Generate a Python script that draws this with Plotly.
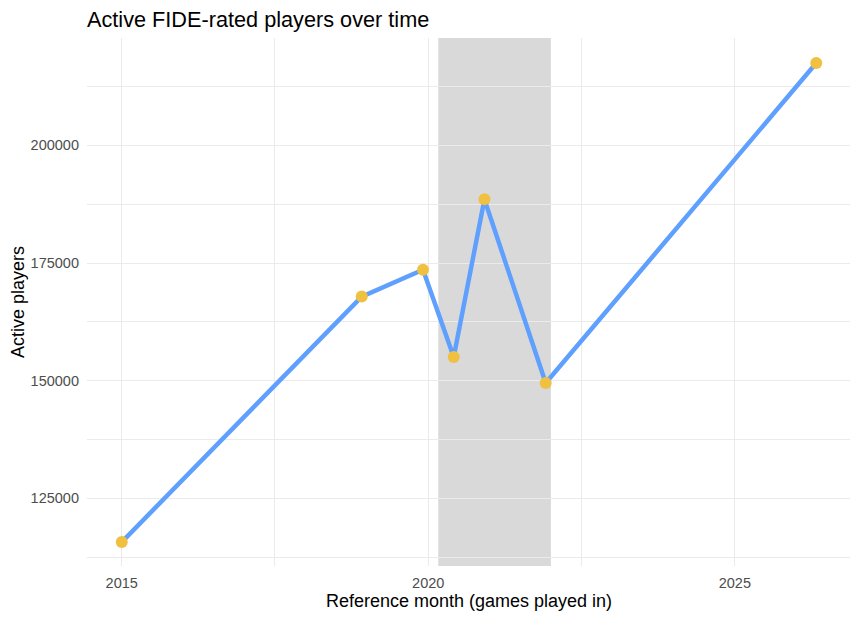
import plotly.graph_objects as go

# 기준 월과 활성 선수 수
months = ["2015-01-01", "2018-12-01", "2019-12-01", "2020-06-01",
          "2020-12-01", "2021-12-01", "2026-05-01"]
active_players = [115680, 167860, 173570, 155040, 188530, 149480, 217500]

# 음영 구간 (팬데믹 기간)
shade_start = "2020-03-01"
shade_end = "2022-01-01"

x_ticks = ["2015-01-01", "2020-01-01", "2025-01-01"]
x_tick_labels = ["2015", "2020", "2025"]
y_ticks = [125000, 150000, 175000, 200000]

font_family = "Liberation Sans, Arial, sans-serif"
grid_color = "#EBEBEB"

# 페이지 body 여백(8px)을 감안한 크기
W, H = 850, 614

fig = go.Figure()

fig.add_vrect(x0=shade_start, x1=shade_end, fillcolor="#D9D9D9",
              opacity=1, line_width=0, layer="below")

fig.add_trace(go.Scatter(
    x=months, y=active_players, mode="lines",
    line=dict(color="#5FA0FF", width=4.5),
    hoverinfo="skip", showlegend=False,
))
fig.add_trace(go.Scatter(
    x=months, y=active_players, mode="markers",
    marker=dict(color="#F0C040", size=12, line=dict(width=0)),
    showlegend=False,
))

fig.update_layout(
    width=W, height=H,
    margin=dict(l=79, r=7, t=30, b=56),
    paper_bgcolor="white", plot_bgcolor="white",
    font=dict(family=font_family, color="black"),
    title=dict(text="Active FIDE-rated players over time",
               x=79 / W, xanchor="left", y=1 - 11 / H, yanchor="middle",
               font=dict(size=21.7, color="black")),
)

fig.update_xaxes(
    type="date", range=["2014-06-08", "2026-11-24"],
    tickvals=x_ticks, ticktext=x_tick_labels,
    showgrid=True, gridcolor=grid_color, gridwidth=1.1,
    minor=dict(dtick="M30", tick0="2015-01-01", showgrid=True,
               gridcolor=grid_color, gridwidth=0.6),
    zeroline=False, showline=False, ticks="",
    tickfont=dict(size=14.5, color="#4D4D4D"),
    ticklabelstandoff=6,
    title=dict(text="Reference month (games played in)",
               font=dict(size=18, color="black"), standoff=4),
)
fig.update_yaxes(
    range=[110590, 222830],
    tickvals=y_ticks, tickformat="d",
    showgrid=True, gridcolor=grid_color, gridwidth=1.1,
    minor=dict(dtick=12500, tick0=112500, showgrid=True,
               gridcolor=grid_color, gridwidth=0.6),
    zeroline=False, showline=False, ticks="",
    tickfont=dict(size=14.5, color="#4D4D4D"),
    ticklabelstandoff=7,
    title=dict(text="Active players",
               font=dict(size=18, color="black"), standoff=3),
)

fig.write_html("out.html")
